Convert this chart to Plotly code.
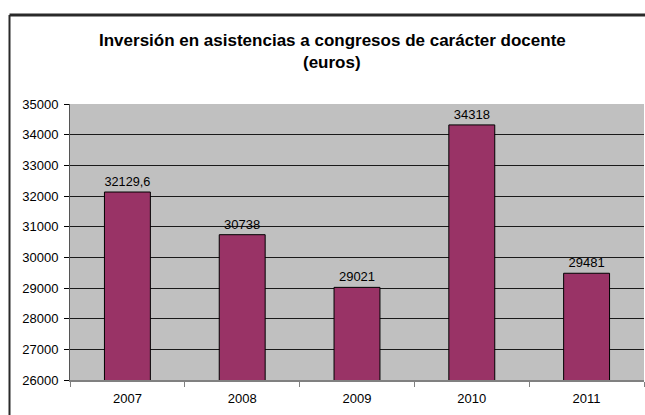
import plotly.graph_objects as go

years = ["2007", "2008", "2009", "2010", "2011"]
values = [32129.6, 30738, 29021, 34318, 29481]
labels = ["32129,6", "30738", "29021", "34318", "29481"]
y_ticks = [26000, 27000, 28000, 29000, 30000, 31000, 32000, 33000, 34000, 35000]

fig = go.Figure()
fig.add_trace(go.Bar(
    x=years, y=values, text=labels, textposition="outside",
    textfont=dict(family="Liberation Sans, Arial", size=13, color="#000000"),
    marker=dict(color="#993366", line=dict(color="#000000", width=1)),
    width=0.4, cliponaxis=False,
))

bx0 = (9.5 - 70) / 574
by1 = (380 - 15) / 276

fig.update_layout(
    width=645, height=415,
    margin=dict(l=70, r=1, t=104, b=35),
    paper_bgcolor="#FFFFFF", plot_bgcolor="#C0C0C0",
    showlegend=False,
    font=dict(family="Liberation Sans, Arial", size=13, color="#000000"),
    xaxis=dict(type="category", ticks="outside", ticklen=5, tickcolor="#808080",
               tickson="boundaries", showline=True, linecolor="#808080", linewidth=2,
               showgrid=False, tickfont=dict(size=13), ticklabelstandoff=5),
    yaxis=dict(range=[26000, 35000], tickvals=y_ticks, tickformat="d",
               ticks="outside", ticklen=5, ticklabelstandoff=3,
               tickcolor="#000000", showline=True, linecolor="#555555", linewidth=1,
               showgrid=True, gridcolor="#1a1a1a", gridwidth=1, zeroline=False,
               tickfont=dict(size=13)),
    annotations=[
        dict(text="<b>Inversión en asistencias a congresos de carácter docente</b>",
             xref="paper", yref="paper", x=(332 - 70) / 574, y=(380 - 40) / 276,
             xanchor="center", yanchor="middle", showarrow=False,
             font=dict(size=17, family="Liberation Sans, Arial")),
        dict(text="<b>(euros)</b>",
             xref="paper", yref="paper", x=(332 - 70) / 574, y=(380 - 62) / 276,
             xanchor="center", yanchor="middle", showarrow=False,
             font=dict(size=17, family="Liberation Sans, Arial")),
    ],
    shapes=[
        dict(type="line", xref="paper", yref="paper",
             x0=bx0, x1=1.01, y0=by1, y1=by1,
             line=dict(color="#2a2a2a", width=3), layer="above"),
        dict(type="line", xref="paper", yref="paper",
             x0=bx0, x1=bx0, y0=-0.14, y1=by1,
             line=dict(color="#2a2a2a", width=2), layer="above"),
    ],
)

fig.write_html("out.html", config={"displayModeBar": False},
               post_script="document.body.style.margin='0';document.body.style.overflow='hidden';")
